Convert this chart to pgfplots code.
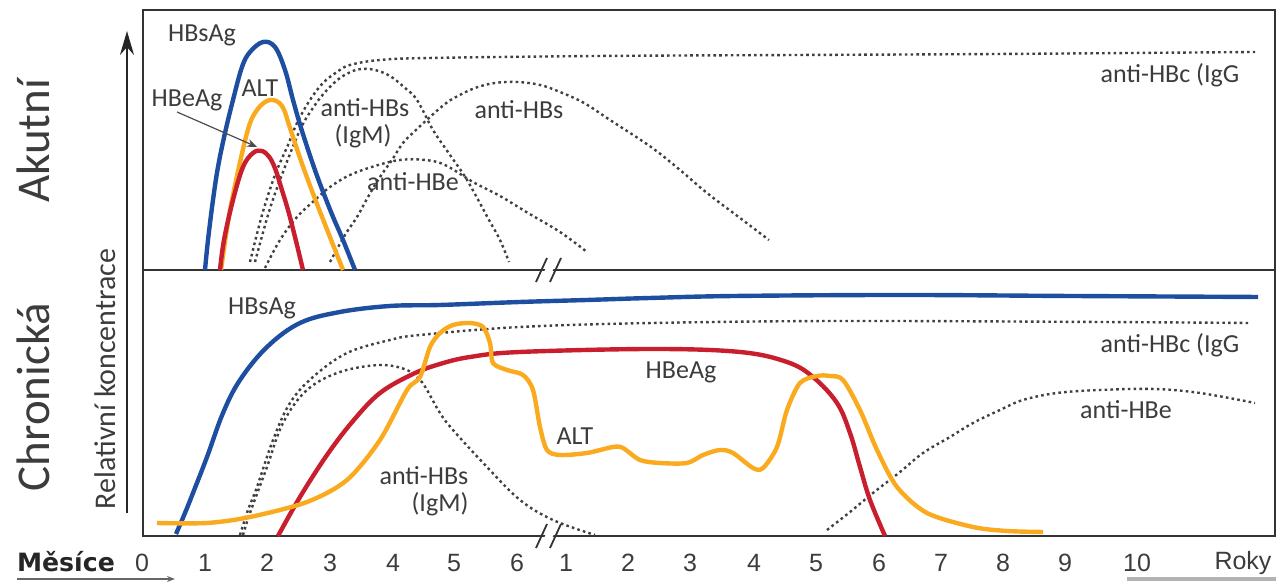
\documentclass[border=0pt]{standalone}
\usepackage{fontspec}
\setmainfont{Carlito}
\newfontfamily\tickfont{Liberation Sans}
\newfontfamily\dejavu{DejaVu Sans}
\usepackage{pgfplots}
\pgfplotsset{compat=1.18}
\usetikzlibrary{arrows.meta}
\definecolor{hbblue}{RGB}{30,78,160}
\definecolor{hborange}{RGB}{250,170,30}
\definecolor{hbred}{RGB}{200,30,45}
\definecolor{txt}{RGB}{60,60,60}
\begin{document}
\begin{tikzpicture}
\begin{axis}[
  at={(0,0)}, anchor=south west, scale only axis,
  width=638pt, height=291.5pt,
  xmin=0, xmax=1276, ymin=0, ymax=583,
  axis line style={draw=none}, tick style={draw=none}, ytick=\empty,
  xtick={142,205,267,330,393,454,517,566,628,690,754,816,879,941,1003,1065,1137},
  xticklabels={0,1,2,3,4,5,6,1,2,3,4,5,6,7,8,9,10},
  xticklabel style={font=\tickfont\fontsize{12.5}{14}\selectfont, anchor=center, yshift=10pt, text=txt},
  clip=false,
  colored/.style={line width=2.2pt, smooth, tension=0.6, no marks},
  dots/.style={line width=1.2pt, black!75, dash pattern=on 1.3pt off 1.6pt, smooth, tension=0.6, no marks},
]
% frames
\draw[line width=1pt, black!80] (143,573) rectangle (1275,313);
\draw[line width=1pt, black!80] (143,313) rectangle (1275,47);

% ---------------- top panel (acute) ----------------
% anti-HBc (IgG)
\addplot[dots] coordinates {(250,321)(262,368)(275,408)(288,438)(297,460)(310,483)(323,500)(337,511)(350,518)(380,523)(430,525)(600,527)(800,528)(1000,529)(1255,531)};
% anti-HBs (IgM)
\addplot[dots] coordinates {(255,321)(268,368)(280,403)(300,453)(315,478)(327,493)(340,505)(353,512)(362,514)(375,513)(390,507)(405,495)(417,483)(433,453)(450,428)(467,403)(489,363)(500,343)(509,321)};
% anti-HBe
\addplot[dots] coordinates {(265,315)(280,343)(297,366)(315,383)(330,396)(350,408)(375,417)(400,423)(425,423)(445,418)(473,401)(500,387)(528,370)(560,351)(587,331)};
% anti-HBs
\addplot[dots] coordinates {(330,321)(345,348)(357,366)(368,386)(380,406)(392,423)(403,440)(416,453)(430,466)(445,479)(456,486)(475,495)(495,500)(517,501)(540,498)(560,491)(584,480)(610,463)(651,436)(680,413)(707,390)(740,365)(769,343)};
% HBsAg
\addplot[colored, hbblue] coordinates {(205,313)(208,343)(213,383)(218,416)(225,450)(233,483)(242,516)(250,531)(263,541)(275,536)(285,513)(293,483)(302,452)(316,410)(331,371)(343,343)(355,313)};
% ALT
\addplot[colored, hborange] coordinates {(221,313)(226,348)(232,383)(247,450)(257,473)(270,483)(282,477)(290,455)(300,425)(312,392)(326,356)(343,313)};
% HBeAg
\addplot[colored, hbred] coordinates {(220,313)(224,343)(233,383)(243,416)(253,430)(262,432)(270,425)(276,412)(281,396)(288,373)(295,346)(303,313)};

% ---------------- bottom panel (chronic) ----------------
% anti-HBc (IgG)
\addplot[dots] coordinates {(240,48)(248,73)(257,96)(273,143)(290,180)(313,206)(347,230)(390,243)(420,248)(520,256)(653,260)(840,262)(1100,261)(1249,260)};
% anti-HBs (IgM)
\addplot[dots] coordinates {(243,48)(250,70)(267,116)(283,160)(307,193)(340,211)(380,218)(407,213)(420,203)(427,193)(440,170)(453,153)(487,116)(520,83)(553,63)(595,48)};
% anti-HBe
\addplot[dots] coordinates {(827,53)(850,71)(873,90)(900,111)(923,130)(950,146)(973,160)(1000,173)(1023,183)(1057,190)(1100,193)(1154,194)(1200,190)(1255,180)};
% HBsAg
\addplot[colored, hbblue] coordinates {(176,49)(185,70)(193,90)(207,126)(223,170)(240,203)(267,236)(300,260)(340,271)(390,277)(440,278)(520,281)(587,283)(650,285)(735,287)(903,288)(1070,287)(1258,286)};
% HBeAg
\addplot[colored, hbred] coordinates {(278,47)(300,86)(327,128)(353,162)(380,190)(413,209)(440,219)(470,226)(520,231)(653,234)(740,231)(787,221)(813,206)(837,180)(850,150)(860,116)(870,83)(885,47)};
% ALT
\addplot[colored, hborange, tension=0.5] coordinates {(157,60)(207,60)(250,66)(307,81)(347,103)(380,143)(407,193)(420,206)(430,236)(440,250)(453,258)(470,260)(483,256)(490,240)(493,220)(507,213)(523,208)(533,193)(540,156)(547,133)(560,128)(587,130)(613,136)(623,135)(640,123)(660,120)(687,120)(703,128)(720,133)(733,130)(753,115)(763,115)(777,136)(787,173)(800,200)(817,207)(830,207)(843,203)(860,173)(877,133)(897,96)(927,70)(973,56)(1007,52)(1043,51)};

% break marks
\fill[white] (540,303) -- (550,323) -- (558,323) -- (548,303) -- cycle;
\draw[line width=0.9pt, black!80] (536,301) -- (547,325) (550,301) -- (561,325);
\fill[white] (540,37) -- (550,57) -- (558,57) -- (548,37) -- cycle;
\draw[line width=0.9pt, black!80] (536,35) -- (547,59) (550,35) -- (561,59);

% arrows
\draw[line width=1pt, black!85, -{Stealth[length=12pt,width=7pt]}] (127,70) -- (127,552);
\draw[line width=0.6pt, black!70, -{Stealth[length=5pt,width=4pt]}] (177,471) -- (257,436);
\draw[line width=0.8pt, black!60, -{Stealth[length=4pt,width=3pt]}] (17,4) -- (175,4);
\draw[line width=1.6pt, black!30] (1127,4) -- (1276,4);

% side labels
\node[rotate=90, font=\fontsize{23.5}{28}\selectfont, text=txt] at (33,442) {Akutní};
\node[rotate=90, font=\fontsize{23.5}{28}\selectfont, text=txt] at (33,186) {Chronická};
\node[rotate=90, font=\fontsize{15}{18}\selectfont, text=txt] at (105,204) {Relativní koncentrace};
\node[font=\dejavu\bfseries\fontsize{12.6}{15}\selectfont, text=black!85] at (66,21) {Měsíce};
\node[font=\tickfont\fontsize{12.5}{14}\selectfont, text=txt] at (1243,20) {Roky};

% curve labels top
\tikzset{lab/.style={font=\fontsize{13}{15}\selectfont, text=txt, inner sep=0pt}}
\node[lab] at (202,548) {HBsAg};
\node[lab] at (187,483) {HBeAg};
\node[lab] at (260,495) {ALT};
\node[lab] at (365,475) {anti-HBs};
\node[lab] at (363,447) {(IgM)};
\node[lab] at (413,401) {anti-HBe};
\node[lab] at (519,473) {anti-HBs};
\node[lab] at (1170,508) {anti-HBc (IgG};
% curve labels bottom
\node[lab] at (262,275) {HBsAg};
\node[lab] at (1170,238) {anti-HBc (IgG};
\node[lab] at (681,211) {HBeAg};
\node[lab] at (575,147) {ALT};
\node[lab] at (424,107) {anti-HBs};
\node[lab] at (440,79) {(IgM)};
\node[lab] at (1126,173) {anti-HBe};
\end{axis}
\pgfresetboundingbox
\path (0,0) rectangle (638pt,291.5pt);
\end{tikzpicture}
\end{document}
